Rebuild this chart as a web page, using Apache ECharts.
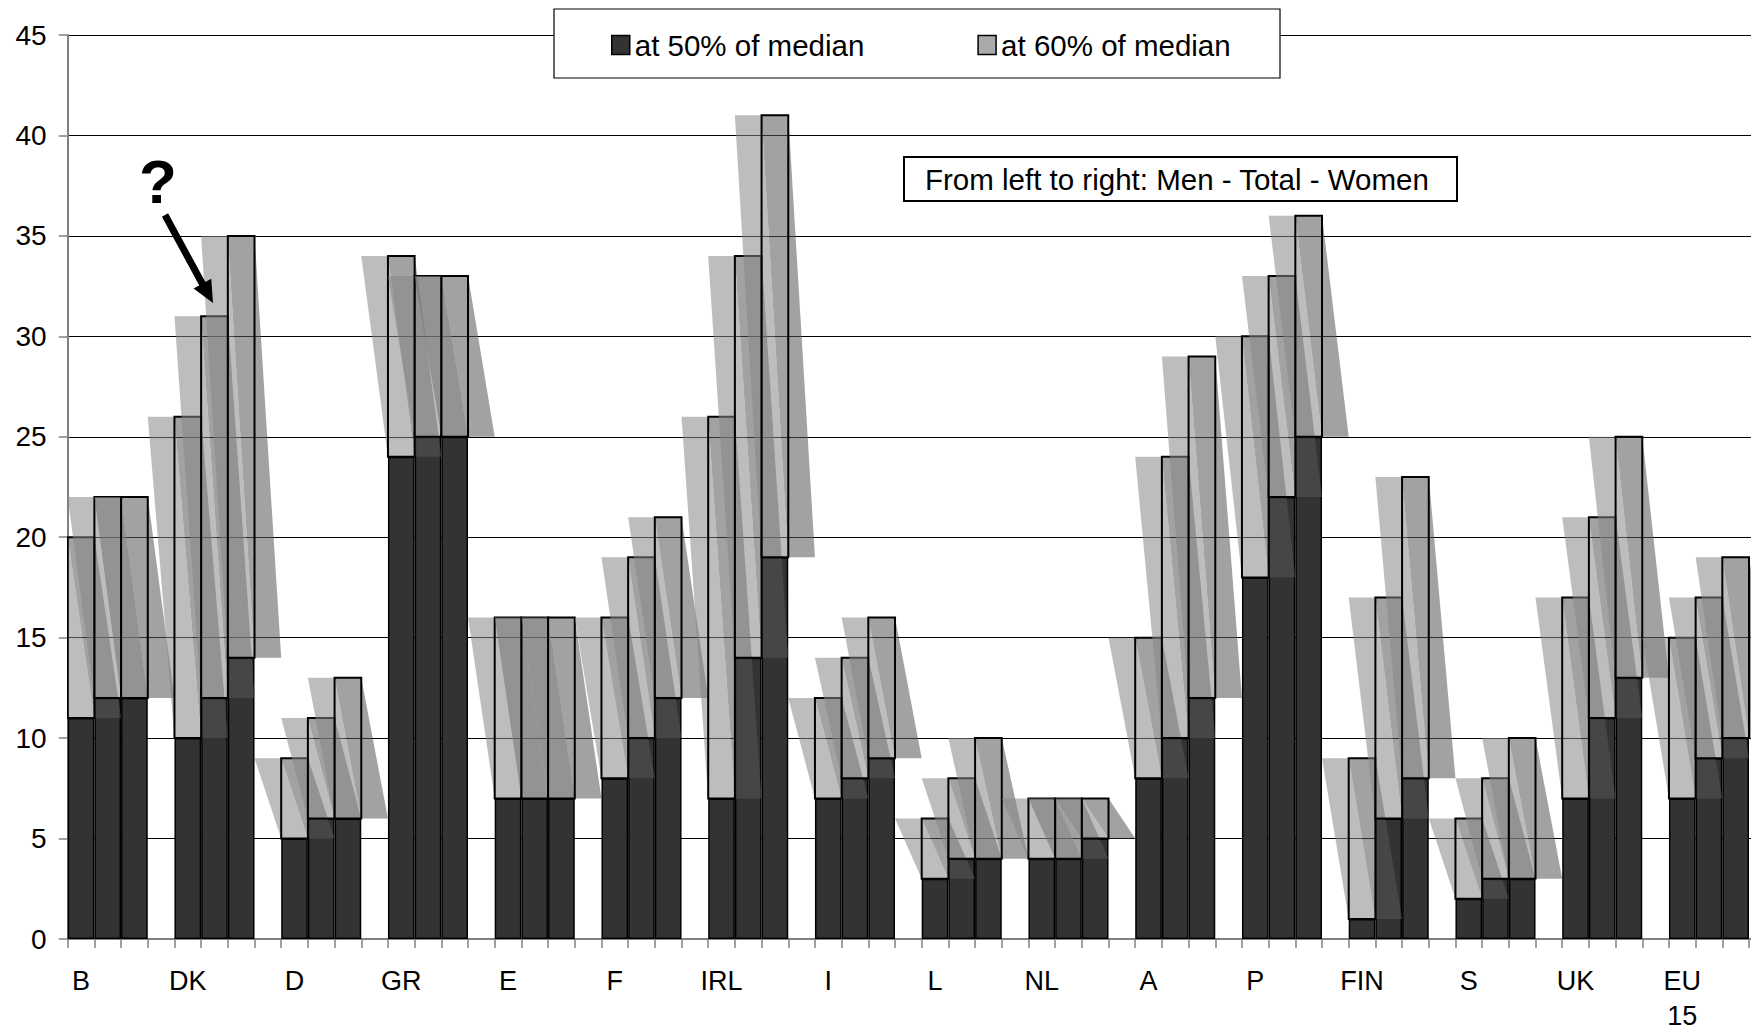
<!DOCTYPE html>
<html>
<head>
<meta charset="utf-8">
<script src="https://cdn.jsdelivr.net/npm/echarts@6/dist/echarts.min.js"></script>
<style>
  html, body { margin: 0; padding: 0; background: #fff; }
  #chart { width: 1751px; height: 1029px; }
</style>
</head>
<body>
<div id="chart"></div>
<script>
// Countries, each shown as three bars: Men - Total - Women
const countries = ['B', 'DK', 'D', 'GR', 'E', 'F', 'IRL', 'I', 'L', 'NL', 'A', 'P', 'FIN', 'S', 'UK', 'EU 15'];

// Poverty rate (%) at 50% of median income
const men50   = [11, 10, 5, 24, 7,  8,  7, 7, 3, 4,  8, 18, 1, 2,  7,  7];
const total50 = [12, 12, 6, 25, 7, 10, 14, 8, 4, 4, 10, 22, 6, 3, 11,  9];
const women50 = [12, 14, 6, 25, 7, 12, 19, 9, 4, 5, 12, 25, 8, 3, 13, 10];

// Poverty rate (%) at 60% of median income
const men60   = [20, 26,  9, 34, 16, 16, 26, 12,  6, 7, 15, 30,  9,  6, 17, 15];
const total60 = [22, 31, 11, 33, 16, 19, 34, 14,  8, 7, 24, 33, 17,  8, 21, 17];
const women60 = [22, 35, 13, 33, 16, 21, 41, 16, 10, 7, 29, 36, 23, 10, 25, 19];

// Value axis ticks
const yMin = 0, yMax = 45, yStep = 5;

const FONT = '"Liberation Sans", Arial, sans-serif';
const SLOTS = 4; // three bars and one empty slot per country

// One category slot per bar; every fourth slot is the gap between countries
const slotNames = [];
const bar50 = [];
const seg60 = [];
countries.forEach((c, i) => {
  const lo = [men50[i], total50[i], women50[i]];
  const hi = [men60[i], total60[i], women60[i]];
  for (let j = 0; j < 3; j++) {
    slotNames.push(c + '|' + j);
    bar50.push(lo[j]);
    seg60.push([i * SLOTS + j, lo[j], hi[j]]);
  }
  slotNames.push(c + '|gap');
  bar50.push('-');
});

// Upper segment (50% -> 60%) with its sheared shading
function renderSegment(params, api) {
  const x = api.value(0);
  const top = api.coord([x, api.value(2)]);
  const bot = api.coord([x, api.value(1)]);
  const w = api.size([1, 0])[0];
  const x0 = top[0] - w / 2, x1 = top[0] + w / 2;
  const yt = top[1], yb = bot[1];
  return {
    type: 'group',
    children: [
      {
        type: 'polygon',
        shape: { points: [[x0, yt], [x1, yt], [x1 + w, yb], [x0 + w, yb]] },
        style: { fill: 'rgba(85,85,85,0.55)' }
      },
      {
        type: 'polygon',
        shape: { points: [[x0 - w, yt], [x1 - w, yt], [x1, yb], [x0, yb]] },
        style: { fill: 'rgba(135,135,135,0.55)' }
      },
      {
        type: 'rect',
        shape: { x: x0, y: yt, width: w, height: yb - yt },
        style: { fill: 'none', stroke: '#000', lineWidth: 2 }
      }
    ]
  };
}

const chart = echarts.init(document.getElementById('chart'), null, { renderer: 'svg' });

chart.setOption({
  backgroundColor: '#fff',
  animation: false,
  grid: {
    left: 67.7, right: -24.7, top: 35, bottom: 90,
    containLabel: false, outerBoundsMode: 'none'
  },
  legend: {
    left: 611, top: 28, padding: 0,
    itemWidth: 18, itemHeight: 19, itemGap: 113,
    selectedMode: false, z: 20,
    textStyle: { fontFamily: FONT, fontSize: 29.5, color: '#000', lineHeight: 34 },
    data: [
      { name: 'at 50% of median', icon: 'rect',
        itemStyle: { color: '#333', borderColor: '#000', borderWidth: 1.5 } },
      { name: 'at 60% of median', icon: 'rect',
        itemStyle: { color: '#aaa', borderColor: '#000', borderWidth: 1.5 } }
    ]
  },
  xAxis: {
    type: 'category',
    data: slotNames,
    boundaryGap: true,
    axisLine: { show: true, lineStyle: { color: '#808080', width: 2 } },
    axisTick: { show: true, interval: 0, length: 9, lineStyle: { color: '#808080', width: 1.5 } },
    axisLabel: {
      interval: 0,
      margin: 24,
      fontFamily: FONT, fontSize: 27, lineHeight: 35, color: '#000',
      formatter: (val, idx) => idx % SLOTS === 0 ? countries[idx / SLOTS].replace(' ', '\n') : ''
    },
    splitLine: { show: false }
  },
  yAxis: {
    type: 'value',
    min: yMin, max: yMax, interval: yStep,
    axisLine: { show: true, lineStyle: { color: '#808080', width: 2 } },
    axisTick: { show: true, length: 9, lineStyle: { color: '#808080', width: 1.5 } },
    axisLabel: { margin: 21, fontFamily: FONT, fontSize: 28, color: '#000' },
    splitLine: { show: true, lineStyle: { color: '#000', width: 1 } }
  },
  series: [
    {
      name: 'at 50% of median',
      type: 'bar',
      data: bar50,
      barCategoryGap: '0%',
      z: 2,
      itemStyle: { color: '#333', borderColor: '#000', borderWidth: 1.5 }
    },
    {
      name: 'at 60% of median',
      type: 'custom',
      data: seg60,
      encode: { x: 0, y: [1, 2] },
      renderItem: renderSegment,
      clip: true,
      z: 3,
      itemStyle: { color: '#aaa' }
    }
  ],
  graphic: [
    // legend frame
    {
      type: 'rect', z: 10,
      shape: { x: 554, y: 9, width: 726, height: 69 },
      style: { fill: '#fff', stroke: '#000', lineWidth: 1.2 }
    },
    // reading order note
    {
      type: 'rect', z: 10,
      shape: { x: 904, y: 157, width: 553, height: 44 },
      style: { fill: '#fff', stroke: '#000', lineWidth: 2 }
    },
    {
      type: 'text', z: 11, x: 925, y: 179,
      style: {
        text: 'From left to right: Men - Total - Women',
        font: '29.5px ' + FONT, fill: '#000',
        align: 'left', verticalAlign: 'middle'
      }
    },
    // question mark with arrow pointing at DK total
    {
      type: 'text', z: 11, x: 158, y: 181,
      style: {
        text: '?', font: 'bold 62px ' + FONT, fill: '#000',
        align: 'center', verticalAlign: 'middle'
      }
    },
    {
      type: 'line', z: 11,
      shape: { x1: 165, y1: 215, x2: 203, y2: 285 },
      style: { stroke: '#000', lineWidth: 7 }
    },
    {
      type: 'polygon', z: 11,
      shape: { points: [[213, 303], [193.6, 288.4], [211.2, 278.8]] },
      style: { fill: '#000' }
    }
  ]
});
</script>
</body>
</html>
